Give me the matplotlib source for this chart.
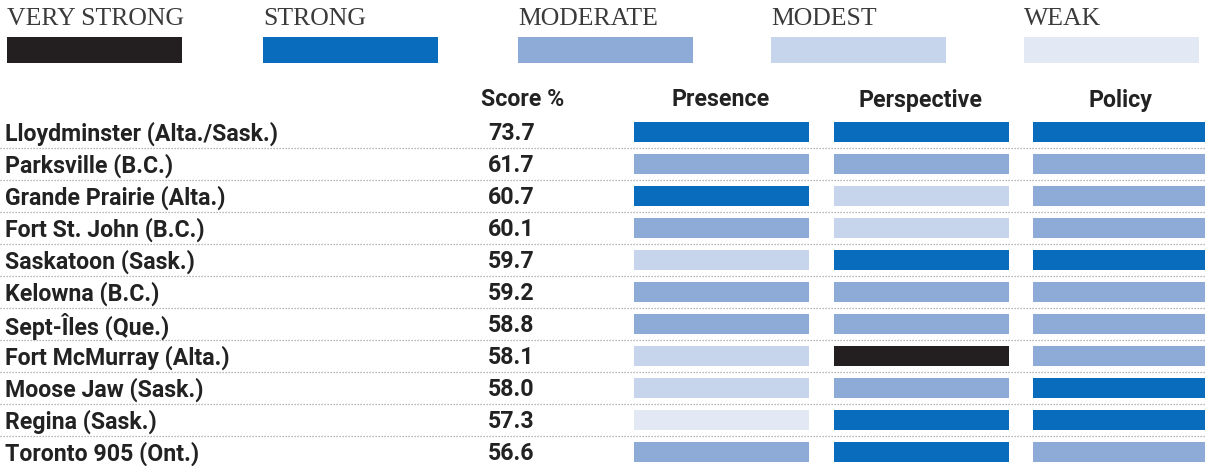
import matplotlib
matplotlib.use("Agg")
import matplotlib.pyplot as plt
from matplotlib import font_manager

# -----------------------------------------------------------------------------
# Data
# -----------------------------------------------------------------------------
cities = [
    "Lloydminster (Alta./Sask.)",
    "Parksville (B.C.)",
    "Grande Prairie (Alta.)",
    "Fort St. John (B.C.)",
    "Saskatoon (Sask.)",
    "Kelowna (B.C.)",
    "Sept-Îles (Que.)",
    "Fort McMurray (Alta.)",
    "Moose Jaw (Sask.)",
    "Regina (Sask.)",
    "Toronto 905 (Ont.)",
]
scores = [73.7, 61.7, 60.7, 60.1, 59.7, 59.2, 58.8, 58.1, 58.0, 57.3, 56.6]

# 4 = very strong, 3 = strong, 2 = moderate, 1 = modest, 0 = weak
presence = [3, 2, 3, 2, 1, 2, 2, 1, 1, 0, 2]
perspective = [3, 2, 1, 1, 3, 2, 2, 4, 2, 3, 3]
policy = [3, 2, 2, 2, 3, 2, 2, 2, 3, 3, 2]

columns = ["Presence", "Perspective", "Policy"]
levels = ["VERY STRONG", "STRONG", "MODERATE", "MODEST", "WEAK"]
level_values = [4, 3, 2, 1, 0]

# -----------------------------------------------------------------------------
# Style
# -----------------------------------------------------------------------------
level_colors = {
    4: "#231f20",
    3: "#0a6cbd",
    2: "#8eabd8",
    1: "#c6d5eb",
    0: "#e2e9f5",
}

installed = {f.name for f in font_manager.fontManager.ttflist}
SANS = "Roboto" if "Roboto" in installed else "DejaVu Sans"
SERIF = "Liberation Serif" if "Liberation Serif" in installed else "DejaVu Serif"
TXT = "#222222"
sans_kw = dict(family=SANS, fontweight="bold", fontsize=16.7, color=TXT,
               va="center")

W, H = 1205, 466
fig = plt.figure(figsize=(W / 100, H / 100), dpi=100)
ax = fig.add_axes([0, 0, 1, 1])
ax.set_xlim(0, W)
ax.set_ylim(H, 0)
ax.axis("off")

# -----------------------------------------------------------------------------
# Legend
# -----------------------------------------------------------------------------
leg_x = [7, 263, 518, 771, 1024]
leg_w = 175
for x, lab, v in zip(leg_x, levels, level_values):
    ax.text(x, 19, lab, family=SERIF, fontsize=18.5, color="#3a3a3a",
            ha="left", va="center")
    ax.barh(50, leg_w, left=x, height=26, color=level_colors[v], align="center")

# -----------------------------------------------------------------------------
# Table
# -----------------------------------------------------------------------------
row0, pitch = 132, 32
bar_left = [634, 834, 1033]
bar_w = 175
bar_h = 20

ax.text(481, 100, "Score %", ha="left", **sans_kw)
for x, col in zip(bar_left, columns):
    ax.text(x + 87, 100, col, ha="center", **sans_kw)

for i in range(len(cities) - 1):
    y = row0 + pitch * i + 16
    ax.plot([0, W], [y, y], color="#a0a0a0", lw=0.9, ls=(0, (1, 1.4)))

for i, (city, sc) in enumerate(zip(cities, scores)):
    y = row0 + pitch * i
    ax.text(5, y + 2, city, ha="left", **sans_kw)
    ax.text(488, y + 2, f"{sc:.1f}", ha="left", **sans_kw)
    for x, vals in zip(bar_left, [presence, perspective, policy]):
        ax.barh(y, bar_w, left=x, height=bar_h,
                color=level_colors[vals[i]], align="center")

fig.savefig("out.png", dpi=100)
